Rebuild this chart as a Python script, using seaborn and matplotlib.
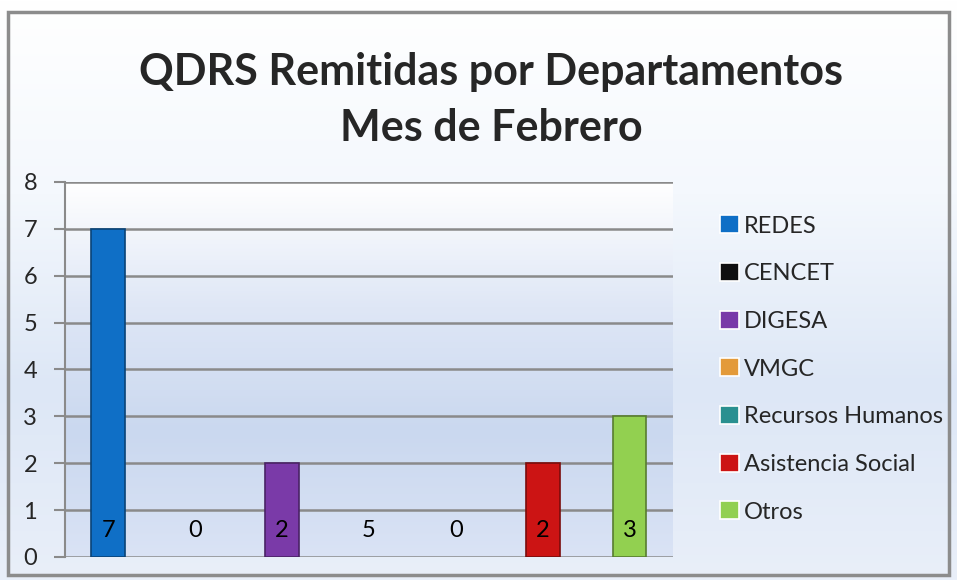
import numpy as np
import pandas as pd
import matplotlib
matplotlib.use("Agg")
import matplotlib.pyplot as plt
from matplotlib.colors import LinearSegmentedColormap, to_rgb
from matplotlib.patches import Rectangle
import seaborn as sns

# data
departamentos = ["REDES", "CENCET", "DIGESA", "VMGC", "Recursos Humanos", "Asistencia Social", "Otros"]
bar_heights = [7, 0, 2, 0, 0, 2, 3]      # drawn bar heights
label_values = [7, 0, 2, 5, 0, 2, 3]     # numbers printed in the bars
colores = ["#0f6fc6", "#101010", "#7a3aa8", "#e39a3a", "#2a9090", "#cc1414", "#92d050"]
titulo = "QDRS Remitidas por Departamentos\nMes de Febrero"
yticks = list(range(0, 9))

df = pd.DataFrame({"Departamento": departamentos, "QDRS": bar_heights})

sns.set_style("white")
plt.rcParams["font.family"] = ["Lato", "DejaVu Sans"]

fig = plt.figure(figsize=(9.57, 5.8), dpi=100)

# figure background gradient
bg = fig.add_axes([0, 0, 1, 1], zorder=-10)
cmap_bg = LinearSegmentedColormap.from_list("bg", ["#ffffff", "#f4f8fd", "#dde7f6", "#e9eff9"])
grad = np.linspace(0, 1, 256).reshape(-1, 1)
bg.imshow(grad, aspect="auto", cmap=cmap_bg, extent=[0, 1, 0, 1], origin="upper")
bg.add_patch(Rectangle((0.008, 0.008), 0.984, 0.972, fill=False, edgecolor="#8c8c8c", lw=2.5,
                       transform=bg.transAxes))
bg.set_axis_off()

ax = fig.add_axes([0.0679, 0.0397, 0.6353, 0.6466])
cmap_ax = LinearSegmentedColormap.from_list("ax", ["#ffffff", "#dfe7f6", "#cad8ef", "#dae3f5"])
ax.imshow(grad, aspect="auto", cmap=cmap_ax, extent=[-0.5, 6.5, 0, 8], origin="upper", zorder=0)

sns.barplot(data=df, x="Departamento", y="QDRS", hue="Departamento", palette=colores,
            width=0.39, dodge=False, legend=True, ax=ax, zorder=3, saturation=1,
            linewidth=1.2)
for p, c in zip(ax.patches, colores):
    p.set_edgecolor(tuple(0.6 * np.array(to_rgb(c))))
    if p.get_height() == 0:
        p.set_linewidth(0)

for i, v in enumerate(label_values):
    ax.text(i, 0.56, str(v), ha="center", va="center", fontsize=17, color="black", zorder=5)

ax.set_xlim(-0.5, 6.5)
ax.set_ylim(0, 8)
ax.set_yticks(yticks)
ax.set_yticklabels([str(t) for t in yticks], fontsize=17)
ax.set_xticks([])
ax.set_xlabel("")
ax.set_ylabel("")
ax.yaxis.grid(True, color="#8a8a8a", lw=1.8, zorder=1)
ax.set_axisbelow(True)
ax.tick_params(axis="y", length=8, width=1.5, color="#8a8a8a", pad=12, left=True)
for s in ["top", "right", "bottom"]:
    ax.spines[s].set_visible(False)
ax.spines["left"].set_color("#8a8a8a")
ax.spines["left"].set_linewidth(1.5)

handles, labels = ax.get_legend_handles_labels()
ax.legend(handles, labels, loc="upper left", bbox_to_anchor=(0.743, 0.645), bbox_transform=fig.transFigure,
          frameon=False, fontsize=17, handlelength=0.8, handleheight=0.8, handletextpad=0.2,
          labelspacing=1.12, borderaxespad=0)

fig.text(0.513, 0.828, titulo, ha="center", va="center", fontsize=31, fontweight="bold",
         linespacing=1.5)

plt.savefig("out.png", dpi=100)
